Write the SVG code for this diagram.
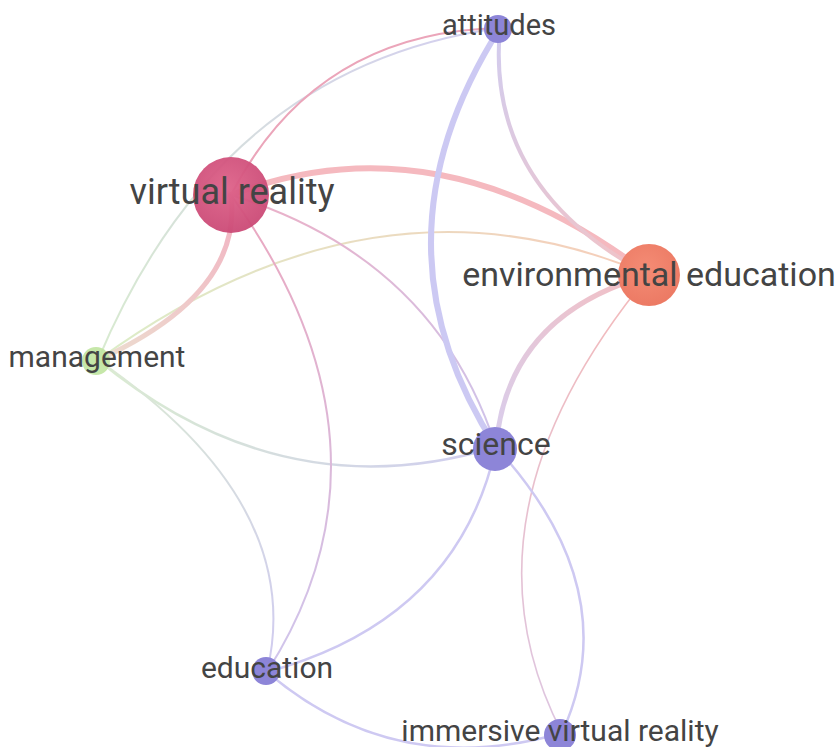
<svg xmlns="http://www.w3.org/2000/svg" width="838" height="747" viewBox="0 0 838 747">
  <style>
    .edge { fill: none; stroke-linecap: round; }
    .label { font-family: Roboto, "Liberation Sans", sans-serif; fill: #444444; text-anchor: middle; }
    .purple { fill: #8d85d8; }
  </style>
  <defs>
    <radialGradient id="gVR" cx="0.45" cy="0.4" r="0.6">
      <stop offset="0" stop-color="#de6289"/>
      <stop offset="1" stop-color="#cb4a76"/>
    </radialGradient>
    <radialGradient id="gEE" cx="0.45" cy="0.4" r="0.6">
      <stop offset="0" stop-color="#f48c75"/>
      <stop offset="1" stop-color="#ec7a64"/>
    </radialGradient>
    <linearGradient id="gMgmtEE" gradientUnits="userSpaceOnUse" x1="98" y1="360" x2="649" y2="275">
      <stop offset="0" stop-color="#d6ebbf"/>
      <stop offset="1" stop-color="#f6c4ae"/>
    </linearGradient>
    <linearGradient id="gVRMgmt" gradientUnits="userSpaceOnUse" x1="231" y1="195" x2="98" y2="360">
      <stop offset="0" stop-color="#f0a6b8"/>
      <stop offset="1" stop-color="#ead8c8"/>
    </linearGradient>
    <linearGradient id="gMgmtAtt" gradientUnits="userSpaceOnUse" x1="98" y1="360" x2="500" y2="28">
      <stop offset="0" stop-color="#d2e8c8"/>
      <stop offset="1" stop-color="#ccc6ee"/>
    </linearGradient>
    <linearGradient id="gMgmtSci" gradientUnits="userSpaceOnUse" x1="98" y1="360" x2="496" y2="447">
      <stop offset="0" stop-color="#d4eac8"/>
      <stop offset="1" stop-color="#c8c4ee"/>
    </linearGradient>
    <linearGradient id="gMgmtEdu" gradientUnits="userSpaceOnUse" x1="98" y1="360" x2="267" y2="672">
      <stop offset="0" stop-color="#d6e8cc"/>
      <stop offset="1" stop-color="#c8c2ee"/>
    </linearGradient>
    <linearGradient id="gVRSci" gradientUnits="userSpaceOnUse" x1="231" y1="195" x2="496" y2="447">
      <stop offset="0" stop-color="#eaa2bc"/>
      <stop offset="1" stop-color="#c6bae8"/>
    </linearGradient>
    <linearGradient id="gVREdu" gradientUnits="userSpaceOnUse" x1="231" y1="195" x2="267" y2="672">
      <stop offset="0" stop-color="#e898b4"/>
      <stop offset="1" stop-color="#c8bcea"/>
    </linearGradient>
    <linearGradient id="gAttEE" gradientUnits="userSpaceOnUse" x1="500" y1="28" x2="649" y2="275">
      <stop offset="0" stop-color="#cac4ec"/>
      <stop offset="1" stop-color="#f0b8bc"/>
    </linearGradient>
    <linearGradient id="gEESci" gradientUnits="userSpaceOnUse" x1="649" y1="275" x2="496" y2="447">
      <stop offset="0" stop-color="#f2b4b8"/>
      <stop offset="1" stop-color="#d2c6ea"/>
    </linearGradient>
    <linearGradient id="gEEImm" gradientUnits="userSpaceOnUse" x1="649" y1="275" x2="562" y2="733">
      <stop offset="0" stop-color="#f2aeae"/>
      <stop offset="1" stop-color="#d8bcdc"/>
    </linearGradient>
  </defs>

  <rect width="838" height="747" fill="#ffffff"/>

  <g id="connectors" opacity="0.85">
    <!-- management links -->
    <path class="edge" d="M98,360 Q221,66 500,28" stroke="url(#gMgmtAtt)" stroke-width="2"/>
    <path class="edge" d="M98,360 Q376,158 649,275" stroke="url(#gMgmtEE)" stroke-width="2"/>
    <path class="edge" d="M98,360 Q283,512 496,447" stroke="url(#gMgmtSci)" stroke-width="2.5"/>
    <path class="edge" d="M98,360 Q307,504 267,672" stroke="url(#gMgmtEdu)" stroke-width="2"/>
    <!-- virtual reality links -->
    <path class="edge" d="M231,195 Q315,32 500,28" stroke="#e896ae" stroke-width="2"/>
    <path class="edge" d="M231,195 Q440,115 649,275" stroke="#f4adb4" stroke-width="6"/>
    <path class="edge" d="M231,195 Q243,294 98,360" stroke="url(#gVRMgmt)" stroke-width="5"/>
    <path class="edge" d="M231,195 Q435,258 496,447" stroke="url(#gVRSci)" stroke-width="2"/>
    <path class="edge" d="M231,195 Q411,446 267,672" stroke="url(#gVREdu)" stroke-width="2"/>
    <!-- attitudes links -->
    <path class="edge" d="M500,28 Q364,242 496,447" stroke="#c4c0f2" stroke-width="6"/>
    <path class="edge" d="M500,28 Q485,188 649,275" stroke="url(#gAttEE)" stroke-width="4"/>
    <!-- environmental education links -->
    <path class="edge" d="M649,275 Q507,315 496,447" stroke="url(#gEESci)" stroke-width="5"/>
    <path class="edge" d="M649,275 Q450,516 562,733" stroke="url(#gEEImm)" stroke-width="1.6"/>
    <!-- science links -->
    <path class="edge" d="M496,447 Q627,590 562,733" stroke="#c6c0f0" stroke-width="2.5"/>
    <path class="edge" d="M496,447 Q458,620 267,672" stroke="#c6c0f0" stroke-width="2.5"/>
    <!-- education link -->
    <path class="edge" d="M267,672 Q395,781 562,733" stroke="#c6c0f0" stroke-width="2.5"/>
  </g>

  <g id="node-management">
    <circle cx="96" cy="361" r="14" fill="#c0e4a0" opacity="0.9"/>
    <text class="label" x="97" y="367" font-size="30">management</text>
  </g>
  <g id="node-virtual-reality">
    <circle cx="231" cy="195" r="38" fill="url(#gVR)" opacity="0.95"/>
    <text class="label" x="232" y="204" font-size="36">virtual reality</text>
  </g>
  <g id="node-attitudes">
    <circle cx="498" cy="29" r="14" class="purple"/>
    <text class="label" x="499" y="35" font-size="29">attitudes</text>
  </g>
  <g id="node-environmental-education">
    <circle cx="649" cy="275" r="31" fill="url(#gEE)"/>
    <text class="label" x="649" y="286" font-size="34">environmental education</text>
  </g>
  <g id="node-science">
    <circle cx="495" cy="449" r="22" class="purple"/>
    <text class="label" x="496" y="455" font-size="32">science</text>
  </g>
  <g id="node-education">
    <circle cx="266" cy="671" r="14" class="purple"/>
    <text class="label" x="267" y="678" font-size="30">education</text>
  </g>
  <g id="node-immersive-virtual-reality">
    <circle cx="560" cy="735" r="16" class="purple"/>
    <text class="label" x="560" y="741" font-size="30">immersive virtual reality</text>
  </g>
</svg>
